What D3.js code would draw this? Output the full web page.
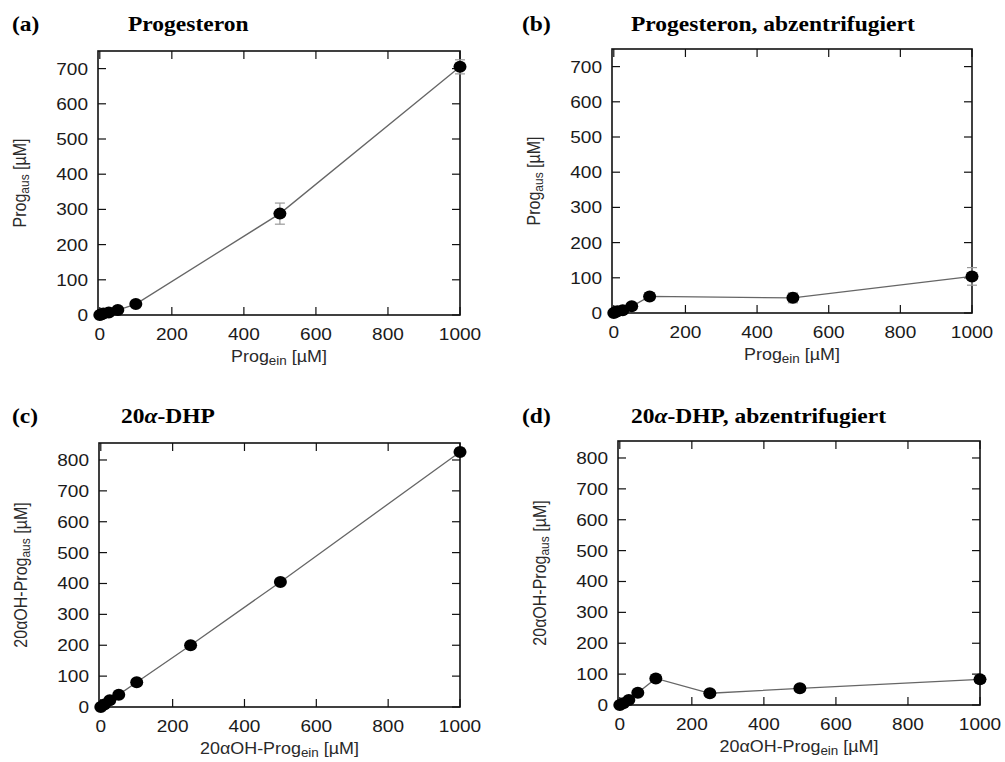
<!DOCTYPE html>
<html>
<head>
<meta charset="utf-8">
<script src="https://cdn.jsdelivr.net/npm/d3@7"></script>
<style>
  body { margin: 0; background: #fff; }
  svg { display: block; }
  .tick-label { font-family: "Liberation Sans", Arial, sans-serif; font-size: 17px; fill: #1a1a1a; }
  .axis-label { font-family: "Liberation Sans", Arial, sans-serif; font-size: 16px; fill: #2a2a2a; }
  .title { font-family: "Liberation Serif", "Times New Roman", serif; font-size: 21px; font-weight: bold; fill: #000; }
</style>
</head>
<body>
<svg id="chart" width="1005" height="762"></svg>
<script>
// data
const progEin = [0, 5, 10, 25, 50, 100, 500, 1000];
const progAus = [0, 2, 4, 7, 14, 31, 288, 705];
const progErr = [2, 2, 2, 3, 5, 6, 30, 20];

const progZentAus = [0, 3, 5, 8, 19, 47, 43, 104];
const progZentErr = [2, 2, 2, 3, 5, 10, 14, 25];

const dhpEin = [0, 10, 25, 50, 100, 250, 500, 1000];
const dhpAus = [0, 8, 22, 40, 80, 200, 405, 826];
const dhpErr = [2, 3, 4, 5, 6, 8, 10, 12];

const dhpZentAus = [0, 6, 16, 40, 86, 38, 54, 83];
const dhpZentErr = [2, 3, 4, 8, 10, 10, 10, 12];

const xTicks = [0, 200, 400, 600, 800, 1000];
const yTicksProg = [0, 100, 200, 300, 400, 500, 600, 700];
const yTicksDhp = [0, 100, 200, 300, 400, 500, 600, 700, 800];

const SX = 1.12; // the source picture is a bit wider than tall

const svg = d3.select("#chart");

// text with horizontal stretch; parts = [[str, sub?], ...]
function txt(g, x, y, parts, cls, anchor, rotate) {
  const t = g.append("text")
    .attr("class", cls)
    .attr("text-anchor", anchor || "start")
    .attr("transform", `translate(${x},${y}) scale(${SX},1)` + (rotate ? " rotate(-90)" : ""));
  parts.forEach(p => {
    if (p[1]) {
      t.append("tspan").attr("dy", 3).attr("font-size", "0.75em").text(p[0]);
    } else {
      const s = t.append("tspan").text(p[0]);
      if (t.selectAll("tspan").size() > 1) s.attr("dy", -3);
    }
  });
  return t;
}

const panels = [
  { tag: "(a)", title: "Progesteron", box: [98, 51, 460, 315], ymax: 750, yTicks: yTicksProg,
    xs: progEin, ys: progAus, es: progErr, titleX: 128, labY: 31,
    xlab: [["Prog"], ["ein", 1], [" [µM]"]], ylab: [["Prog"], ["aus", 1], [" [µM]"]] },
  { tag: "(b)", title: "Progesteron, abzentrifugiert", box: [612, 49, 972, 313], ymax: 750, yTicks: yTicksProg,
    xs: progEin, ys: progZentAus, es: progZentErr, titleX: 631, labY: 31,
    xlab: [["Prog"], ["ein", 1], [" [µM]"]], ylab: [["Prog"], ["aus", 1], [" [µM]"]] },
  { tag: "(c)", title: "20α-DHP", box: [99, 443, 460, 707], ymax: 855, yTicks: yTicksDhp,
    xs: dhpEin, ys: dhpAus, es: dhpErr, titleX: 121, labY: 423,
    xlab: [["20αOH-Prog"], ["ein", 1], [" [µM]"]], ylab: [["20αOH-Prog"], ["aus", 1], [" [µM]"]] },
  { tag: "(d)", title: "20α-DHP, abzentrifugiert", box: [618, 441, 980, 705], ymax: 855, yTicks: yTicksDhp,
    xs: dhpEin, ys: dhpZentAus, es: dhpZentErr, titleX: 631, labY: 423,
    xlab: [["20αOH-Prog"], ["ein", 1], [" [µM]"]], ylab: [["20αOH-Prog"], ["aus", 1], [" [µM]"]] }
];

panels.forEach(p => {
  const [l, t, r, b] = p.box;
  const x = d3.scaleLinear().domain([-5, 1000]).range([l, r]);
  const y = d3.scaleLinear().domain([0, p.ymax]).range([b, t]);
  const g = svg.append("g");

  // headings
  const lx = p.tag === "(a)" || p.tag === "(c)" ? 12 : 522;
  txt(g, lx, p.labY, [[p.tag]], "title");
  const tt = txt(g, p.titleX, p.labY, [[p.title]], "title");
  tt.selectAll("tspan").each(function () {
    const s = d3.select(this);
    const str = s.text();
    if (str.includes("α")) {
      const i = str.indexOf("α");
      s.text(str.slice(0, i));
      tt.append("tspan").attr("font-style", "italic").text("α");
      tt.append("tspan").text(str.slice(i + 1));
    }
  });

  // ticks (inside, mirrored)
  xTicks.forEach(v => {
    g.append("line").attr("x1", x(v)).attr("x2", x(v)).attr("y1", b).attr("y2", b - 8)
      .attr("stroke", "#111").attr("stroke-width", 1.2);
    g.append("line").attr("x1", x(v)).attr("x2", x(v)).attr("y1", t).attr("y2", t + 8)
      .attr("stroke", "#111").attr("stroke-width", 1.2);
    txt(g, x(v), b + 24.5, [[String(v)]], "tick-label", "middle");
  });
  p.yTicks.forEach(v => {
    g.append("line").attr("x1", l).attr("x2", l + 8).attr("y1", y(v)).attr("y2", y(v))
      .attr("stroke", "#111").attr("stroke-width", 1.2);
    g.append("line").attr("x1", r).attr("x2", r - 8).attr("y1", y(v)).attr("y2", y(v))
      .attr("stroke", "#111").attr("stroke-width", 1.2);
    txt(g, l - 10, y(v) + 6, [[String(v)]], "tick-label", "end");
  });

  // frame
  g.append("rect").attr("x", l).attr("y", t).attr("width", r - l).attr("height", b - t)
    .attr("fill", "none").attr("stroke", "#111").attr("stroke-width", 1.6);

  // axis labels
  txt(g, (l + r) / 2, b + 47, p.xlab, "axis-label", "middle");
  txt(g, l - 72, (t + b) / 2, p.ylab, "axis-label", "middle", true);

  const pts = p.xs.map((v, i) => ({ x: v, y: p.ys[i], e: p.es[i] }));

  // connecting line
  g.append("path").datum(pts)
    .attr("d", d3.line().x(d => x(d.x)).y(d => y(d.y)))
    .attr("fill", "none").attr("stroke", "#666").attr("stroke-width", 1.3);

  // error bars
  const eb = g.append("g").attr("stroke", "#999").attr("stroke-width", 1.2);
  pts.forEach(d => {
    const cx = x(d.x), y1 = y(d.y + d.e), y2 = y(Math.max(0, d.y - d.e));
    eb.append("line").attr("x1", cx).attr("x2", cx).attr("y1", y1).attr("y2", y2);
    eb.append("line").attr("x1", cx - 5).attr("x2", cx + 5).attr("y1", y1).attr("y2", y1);
    eb.append("line").attr("x1", cx - 5).attr("x2", cx + 5).attr("y1", y2).attr("y2", y2);
  });

  // markers
  g.selectAll("ellipse.pt").data(pts).join("ellipse")
    .attr("class", "pt")
    .attr("cx", d => x(d.x)).attr("cy", d => y(d.y))
    .attr("rx", 6.5).attr("ry", 6).attr("fill", "#000");
});
</script>
</body>
</html>
